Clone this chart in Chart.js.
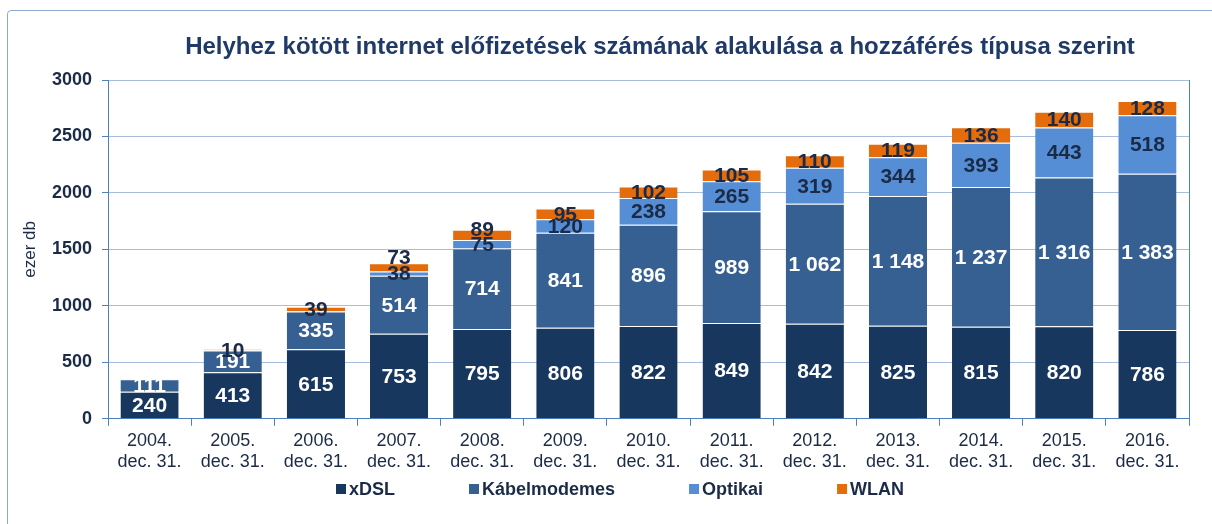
<!DOCTYPE html>
<html>
<head>
<meta charset="utf-8">
<script src="https://cdn.jsdelivr.net/npm/chart.js@4"></script>
<style>
    html, body { margin: 0; padding: 0; background: #fff; }
    #wrap { position: relative; width: 1212px; height: 524px; overflow: hidden; }
    #frame {
        position: absolute; left: 7px; top: 10px; width: 1230px; height: 540px;
        border: 1px solid #8ea9cf; border-radius: 4px;
    }
    canvas { position: absolute; left: 0; top: 0; }
</style>
</head>
<body>
<div id="wrap">
    <div id="frame"></div>
    <canvas id="chart" width="1212" height="524"></canvas>
</div>
<script>
/* ── Data ── */

const TITLE    = 'Helyhez kötött internet előfizetések számának alakulása a hozzáférés típusa szerint';

const years    = ['2004.', '2005.', '2006.', '2007.', '2008.', '2009.', '2010.',
                  '2011.', '2012.', '2013.', '2014.', '2015.', '2016.'];
const labels   = years.map(y => [y, 'dec. 31.']);

const xdsl     = [240, 413, 615, 753, 795, 806, 822, 849, 842, 825, 815, 820, 786];
const kabel    = [111, 191, 335, 514, 714, 841, 896, 989, 1062, 1148, 1237, 1316, 1383];
const optikai  = [0, 2, 3, 38, 75, 120, 238, 265, 319, 344, 393, 443, 518];
const wlan     = [4, 10, 39, 73, 89, 95, 102, 105, 110, 119, 136, 140, 128];

const yTicks   = [0, 500, 1000, 1500, 2000, 2500, 3000];

const FONT     = "'Liberation Sans', Arial, sans-serif";
const INK      = '#1b2b47';

// labels that were pushed up by hand in the original (dataset index -> category index -> px)
const labelNudge = { 3: { 3: -10, 4: -6 } };

const fmt = v => String(v).replace(/\B(?=(\d{3})+(?!\d))/g, ' ');

/* ── Plugins ── */

const segmentLabels = {
    id: 'segmentLabels',
    afterDatasetsDraw(chart) {
        const { ctx } = chart;
        ctx.save();
        ctx.font         = `bold 21px ${FONT}`;
        ctx.textAlign    = 'center';
        ctx.textBaseline = 'middle';
        chart.data.datasets.forEach((ds, di) => {
            const meta = chart.getDatasetMeta(di);
            ctx.fillStyle = ds.labelColor;
            meta.data.forEach((bar, i) => {
                const v = ds.data[i];
                if (v < 5) return;
                const nudge = (labelNudge[di] && labelNudge[di][i]) || 0;
                ctx.fillText(fmt(v), bar.x, (bar.y + bar.base) / 2 + 1 + nudge);
            });
        });
        ctx.restore();
    }
};

const plotBorder = {
    id: 'plotBorder',
    beforeDatasetsDraw(chart) {
        const { ctx, chartArea: { top, right, bottom } } = chart;
        ctx.save();
        ctx.strokeStyle = '#4f81bd';
        ctx.lineWidth   = 1;
        ctx.beginPath();
        ctx.moveTo(right + 0.5, top);
        ctx.lineTo(right + 0.5, bottom);
        ctx.stroke();
        ctx.restore();
    }
};

// title sits a bit right of the canvas centre, as in the original
const chartTitle = {
    id: 'chartTitle',
    afterDraw(chart) {
        const { ctx } = chart;
        ctx.save();
        ctx.font         = `bold 24px ${FONT}`;
        ctx.fillStyle    = '#1f3a68';
        ctx.textAlign    = 'center';
        ctx.textBaseline = 'middle';
        ctx.fillText(TITLE, 660, 47);
        ctx.restore();
    }
};

// Excel-style legend: evenly gapped entries on one row
const bottomLegend = {
    id: 'bottomLegend',
    afterDraw(chart) {
        const { ctx } = chart;
        const startX = 336, y = 489, gap = 74, box = 10;
        ctx.save();
        ctx.font         = `bold 18px ${FONT}`;
        ctx.textBaseline = 'middle';
        ctx.textAlign    = 'left';
        let x = startX;
        chart.data.datasets.forEach(ds => {
            ctx.fillStyle = ds.backgroundColor;
            ctx.fillRect(x, y - box / 2, box, box);
            ctx.fillStyle = INK;
            ctx.fillText(ds.label, x + box + 3, y + 1);
            x += box + 3 + ctx.measureText(ds.label).width + gap;
        });
        ctx.restore();
    }
};

/* ── Chart ── */

const seg = (label, data, color, labelColor) => ({
    label, data, labelColor,
    backgroundColor: color,
    borderColor:     'rgba(255,255,255,0.35)',
    borderWidth:     { top: 1, bottom: 0, left: 0, right: 0 },
    borderSkipped:   false,
    barPercentage:      0.7,
    categoryPercentage: 1.0,
});

new Chart(document.getElementById('chart').getContext('2d'), {
    type: 'bar',
    plugins: [segmentLabels, plotBorder, chartTitle, bottomLegend],
    data: {
        labels,
        datasets: [
            seg('xDSL',         xdsl,    '#17375e', '#ffffff'),
            seg('Kábelmodemes', kabel,   '#366092', '#ffffff'),
            seg('Optikai',      optikai, '#558ed5', INK),
            seg('WLAN',         wlan,    '#e46c0a', INK),
        ]
    },
    options: {
        responsive: false,
        animation:  false,
        events:     [],
        layout: { padding: { left: 10, right: 23, top: 80, bottom: 47 } },
        scales: {
            x: {
                stacked: true,
                grid:   { drawOnChartArea: false, drawTicks: true, tickLength: 7, color: '#4f81bd' },
                border: { color: '#4f81bd' },
                ticks:  { color: INK, font: { family: FONT, size: 18, lineHeight: 1.2 }, padding: 4, maxRotation: 0 },
            },
            y: {
                stacked: true,
                min: 0, max: 3000,
                afterBuildTicks(scale) { scale.ticks = yTicks.map(v => ({ value: v })); },
                afterFit(scale) { scale.width = 98; },
                grid:   { color: '#a7bddb', tickLength: 6, tickColor: '#4f81bd' },
                border: { color: '#4f81bd' },
                ticks:  {
                    color: INK, font: { family: FONT, size: 18, weight: 'bold' }, padding: 10,
                    callback: v => String(v),
                },
                title:  {
                    display: true, text: 'ezer db', color: INK,
                    font: { family: FONT, size: 17 }, padding: { top: 10, bottom: 0 },
                },
            },
        },
        plugins: {
            tooltip: { enabled: false },
            legend:  { display: false },
            title:   { display: false },
        },
    }
});
</script>
</body>
</html>
